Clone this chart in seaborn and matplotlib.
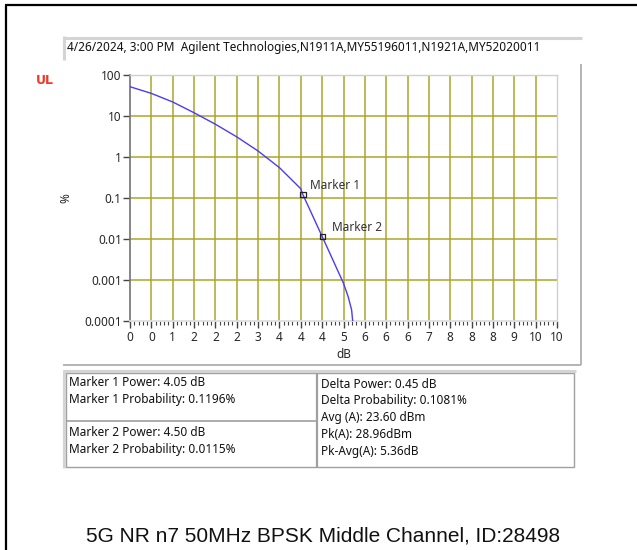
import numpy as np
import pandas as pd
import matplotlib
matplotlib.use("Agg")
import matplotlib.pyplot as plt
import seaborn as sns
from matplotlib.lines import Line2D
from matplotlib.patches import Rectangle
from matplotlib.ticker import FixedLocator, MultipleLocator

# ---------------- data ----------------
power_db = [0.0, 0.5, 1.0, 1.5, 2.0, 2.5, 3.0, 3.5, 4.0, 4.05, 4.215, 4.5, 4.68, 4.84, 5.0, 5.11, 5.19, 5.215]
prob_pct = [51.8, 35.6, 22.0, 12.0, 6.3, 3.1, 1.4, 0.55, 0.168, 0.1196, 0.051, 0.0115, 0.0045, 0.00193, 0.00083, 0.00039, 0.000186, 0.0001]

marker_names = ["Marker 1", "Marker 2"]
marker_db = [4.05, 4.50]
marker_pct = [0.1196, 0.0115]

x_ticks = [i * 0.5 for i in range(21)]
x_tick_labels = ["0", "0", "1", "2", "2", "2", "3", "4", "4", "4", "5",
                 "6", "6", "6", "7", "8", "8", "8", "9", "10", "10"]
y_ticks = [100, 10, 1, 0.1, 0.01, 0.001, 0.0001]
y_tick_labels = ["100", "10", "1", "0.1", "0.01", "0.001", "0.0001"]

header_text = "4/26/2024, 3:00 PM  Agilent Technologies,N1911A,MY55196011,N1921A,MY52020011"
left_top_lines = ["Marker 1 Power: 4.05 dB", "Marker 1 Probability: 0.1196%"]
left_bottom_lines = ["Marker 2 Power: 4.50 dB", "Marker 2 Probability: 0.0115%"]
right_lines = ["Delta Power: 0.45 dB", "Delta Probability: 0.1081%",
               "Avg (A): 23.60 dBm", "Pk(A): 28.96dBm", "Pk-Avg(A): 5.36dB"]
footer_text = "5G NR n7 50MHz BPSK Middle Channel, ID:28498"

df = pd.DataFrame({"dB": power_db, "pct": prob_pct})
mk = pd.DataFrame({"dB": marker_db, "pct": marker_pct, "name": marker_names})

# ---------------- style ----------------
sns.set_theme(style="white")
plt.rcParams["font.family"] = ["Noto Sans", "DejaVu Sans"]

W, H = 637, 550
FS = 8.5
fig = plt.figure(figsize=(W / 100, H / 100), dpi=100)
fig.patch.set_facecolor("white")

def fx(x):
    return x / W

def fy(y):
    return 1 - y / H

def hline(x0, x1, y, color, lw=1.0):
    fig.add_artist(Line2D([fx(x0), fx(x1)], [fy(y), fy(y)], color=color, lw=lw,
                          transform=fig.transFigure, solid_capstyle="butt"))

def vline(x, y0, y1, color, lw=1.0):
    fig.add_artist(Line2D([fx(x), fx(x)], [fy(y0), fy(y1)], color=color, lw=lw,
                          transform=fig.transFigure, solid_capstyle="butt"))

# outer black frame (left & top)
vline(6, 5, 550, "black", 1.6)
hline(5, 637, 5, "black", 1.6)

# header box
hline(63, 582, 37.5, "#d4d4d4", 2.2)
vline(64, 36, 60, "#d4d4d4", 2.2)
fig.text(fx(67), fy(47), header_text, fontsize=FS, color="#111111", va="center", ha="left")

# chart panel edges
vline(581, 64, 365, "#a8a8a8", 1.2)
hline(63, 581, 365, "#a8a8a8", 1.2)

# UL label
fig.text(fx(36), fy(80), "UL", fontsize=9, color="#ee3a2a", fontweight="bold",
         family=["DejaVu Sans"], va="center", ha="left")

# ---------------- axes ----------------
ax = fig.add_axes([fx(130), fy(321), fx(557) - fx(130), fy(75) - fy(321)])
ax.set_yscale("log")
ax.set_xlim(0, 10)
ax.set_ylim(0.0001, 100)

grid_c = "#aca62a"
for xv in x_ticks[1:-1]:
    ax.axvline(xv, color=grid_c, lw=1.1, zorder=0)
for yv in y_ticks[1:-1]:
    ax.axhline(yv, color=grid_c, lw=1.1, zorder=0)

sns.lineplot(data=df, x="dB", y="pct", ax=ax, color="#4a3cf5", lw=1.0, zorder=3)
sns.scatterplot(data=mk, x="dB", y="pct", ax=ax, marker="s", s=14,
                facecolor="none", edgecolor="#222222", linewidth=0.9, zorder=4)
offsets = [(5, 2), (7, 2)]
for (_, r), off in zip(mk.iterrows(), offsets):
    ax.annotate(r["name"], (r["dB"], r["pct"]), xytext=off, textcoords="offset points",
                fontsize=FS, color="#333333", ha="left", va="bottom")

ax.xaxis.set_major_locator(FixedLocator(x_ticks))
ax.set_xticklabels(x_tick_labels)
ax.xaxis.set_minor_locator(MultipleLocator(0.1))
ax.yaxis.set_major_locator(FixedLocator(y_ticks))
ax.set_yticklabels(y_tick_labels)
ax.yaxis.set_minor_locator(FixedLocator([]))

ax.tick_params(axis="x", which="major", direction="out", length=5, width=1,
               color="#444444", labelsize=FS, pad=2, bottom=True)
ax.tick_params(axis="x", which="minor", direction="out", length=3, width=0.8,
               color="#444444", bottom=True)
ax.tick_params(axis="y", which="major", direction="out", length=5, width=1,
               color="#444444", labelsize=FS, pad=1, left=True)

for side in ["top", "right"]:
    ax.spines[side].set_color("#d0d0d0")
    ax.spines[side].set_linewidth(1.0)
ax.spines["left"].set_color("#777777")
ax.spines["bottom"].set_color("#dddddd")
for s in ax.spines.values():
    s.set_visible(True)

ax.set_xlabel("dB", fontsize=FS, labelpad=3)
ax.set_ylabel("%", fontsize=FS)
ax.yaxis.set_label_coords((72 - 130) / (557 - 130), 0.5)

# ---------------- table ----------------
hline(63, 576, 371, "#d4d4d4", 2.2)
vline(64, 370, 468, "#d4d4d4", 2.2)
fig.add_artist(Rectangle((fx(66), fy(467)), fx(574) - fx(66), fy(373) - fy(467),
                         transform=fig.transFigure, fill=False, edgecolor="#a0a0a0", lw=1.0))
vline(317, 373, 467, "#a0a0a0", 1.6)
hline(66, 317, 421, "#a0a0a0", 1.2)

for i, t in enumerate(left_top_lines):
    fig.text(fx(69), fy(383 + 17 * i), t, fontsize=FS, color="#111111", va="center")
for i, t in enumerate(left_bottom_lines):
    fig.text(fx(69), fy(432 + 17 * i), t, fontsize=FS, color="#111111", va="center")
for i, t in enumerate(right_lines):
    fig.text(fx(321), fy(384 + 16.8 * i), t, fontsize=FS, color="#111111", va="center")

fig.text(fx(323), fy(536), footer_text, fontsize=15, color="#111111",
         family=["Liberation Sans", "DejaVu Sans"], ha="center", va="center")

fig.savefig("out.png", dpi=100)
